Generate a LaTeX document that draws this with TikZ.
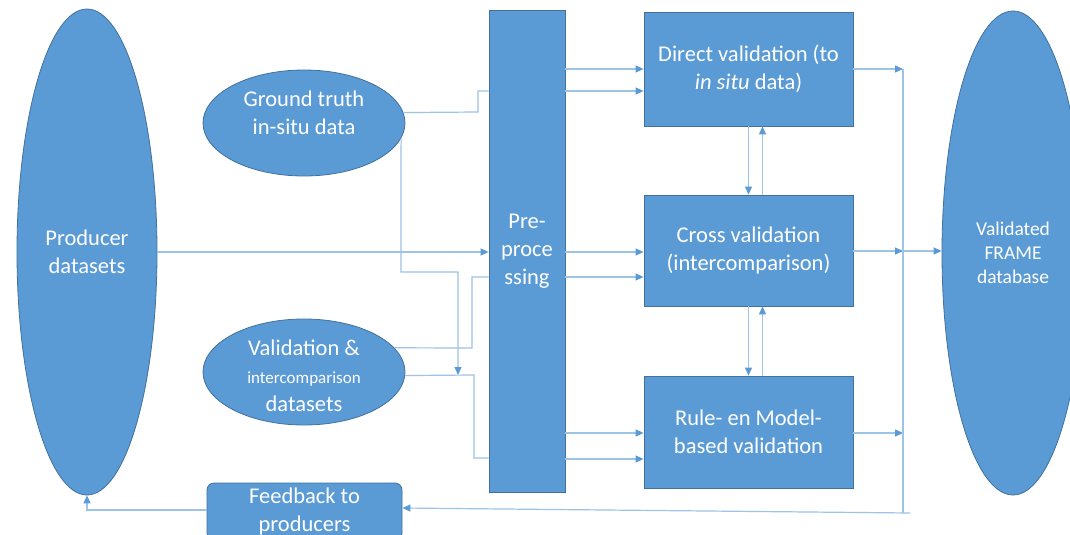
\documentclass[tikz,border=0pt]{standalone}
\usepackage{fontspec}
\setmainfont{Carlito}
\usetikzlibrary{shapes.geometric,arrows.meta,calc}
\definecolor{boxfill}{HTML}{5B9BD5}
\definecolor{boxline}{HTML}{41719C}
\definecolor{wire}{HTML}{9DC3E6}
\definecolor{tip}{HTML}{5B9BD5}
\tikzset{
  shapebase/.style={fill=boxfill, draw=boxline, line width=0.8pt, text=white, inner sep=0pt, align=center,
    font=\fontsize{22.5}{28}\selectfont},
  oval/.style={shapebase, ellipse},
  block/.style={shapebase, rectangle},
  caption/.style={text=white, inner sep=0pt, align=center, font=\fontsize{22.5}{28}\selectfont},
  conn/.style={draw=wire, line width=1.2pt},
  arr/.style={conn, -{Triangle[length=8pt,width=7pt,color=tip]}},
}
\begin{document}
\begin{tikzpicture}[x=1pt,y=-1pt]
\clip (0,0) rectangle (1070,535);
\fill[white] (0,0) rectangle (1070,535);

% sources
\node[oval, minimum width=140pt, minimum height=486pt] (prod) at (87,252) {Producer\\datasets};
\node[oval, minimum width=202pt, minimum height=106pt] (gt) at (304,123) {};
\node[caption] (gtt) at (304,113) {Ground truth\\in-situ data};
\node[oval, minimum width=202pt, minimum height=106pt] (val) at (304,372) {};
\node[caption] (valt) at (304,376) {Validation \&\\{\fontsize{17}{28}\selectfont intercomparison}\\datasets};

% processing chain
\node[block, minimum width=76pt, minimum height=482pt] (pre) at (527,251) {Pre-\\proce\\ssing};
\node[block, minimum width=209pt, minimum height=114pt] (dv) at (748.5,69) {Direct validation (to\\\textit{in situ} data)};
\node[block, minimum width=209pt, minimum height=111pt] (cv) at (748.5,250.5) {Cross validation\\(intercomparison)};
\node[block, minimum width=209pt, minimum height=112pt] (rv) at (748.5,432) {Rule- en Model-\\based validation};

% result and feedback
\node[oval, minimum width=142pt, minimum height=484pt, font=\fontsize{19.5}{24}\selectfont] (db) at (1013,253) {Validated\\FRAME\\database};
\node[block, rounded corners=7pt, minimum width=195pt, minimum height=57pt] (fb) at (304.5,511.5) {Feedback to\\producers};

% inputs into pre-processing
\coordinate (j1) at (458,375);
\draw[conn] (gt.6) -- (478,112) -- (478,91) -- (pre.west |- 0,91);
\draw[arr] (gt.-9) -- (401,272) -- (458,272) -- (j1);
\draw[conn] (val.15) -- (472,348) -- (472,277) -- (pre.west |- 0,277);
\draw[conn] (val.-2) -- (474,375) -- (474,458) -- (pre.west |- 0,458);
\draw[arr] (prod.east) -- (pre.west |- prod.east);

% pre-processing to the validation steps
\draw[arr] (pre.east |- 0,69) -- (dv.west |- 0,69);
\draw[arr] (pre.east |- 0,91) -- (dv.west |- 0,91);
\draw[arr] (pre.east |- 0,252) -- (cv.west |- 0,252);
\draw[arr] (pre.east |- 0,277) -- (cv.west |- 0,277);
\draw[arr] (pre.east |- 0,433) -- (rv.west |- 0,433);
\draw[arr] (pre.east |- 0,459) -- (rv.west |- 0,459);

% exchange between validation steps
\draw[arr] (dv.south) -- (cv.north);
\draw[arr] ([xshift=14pt]cv.north) -- ([xshift=14pt]dv.south);
\draw[arr] (cv.south) -- (rv.north);
\draw[arr] ([xshift=14pt]rv.north) -- ([xshift=14pt]cv.south);

% collecting bus towards the database and feedback
\coordinate (bt) at (903,69);
\coordinate (bm) at (903,251);
\coordinate (bb) at (903,513);
\coordinate (be) at (910,513);
\draw[arr] (dv.east |- bt) -- (bt);
\draw[arr] (cv.east |- bm) -- (bm);
\draw[arr] (rv.east |- 0,433) -- (903,433);
\draw[conn] (bt) -- (bb);
\draw[arr] (bm) -- (db.west |- bm);
\draw[arr] (be) -- (fb.east |- 0,508);
\draw[arr] (fb.west |- 0,510) -| (prod.south);
\end{tikzpicture}
\end{document}
